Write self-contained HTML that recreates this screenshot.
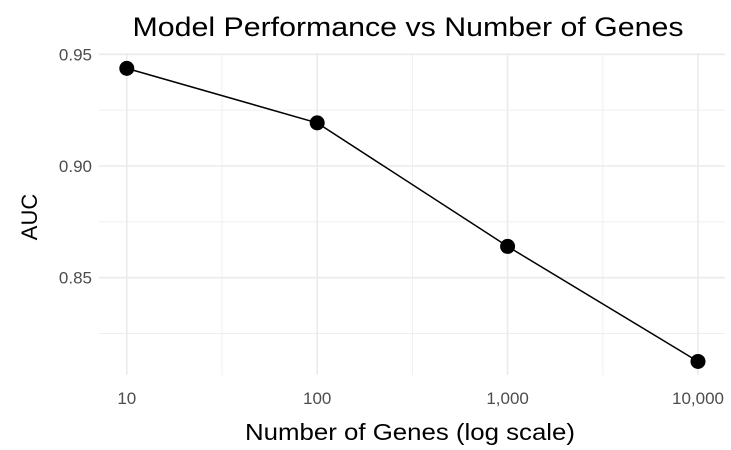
<!DOCTYPE html>
<html><head><meta charset="utf-8"><style>
body{margin:0;background:#fff;}
svg{display:block;font-family:"Liberation Sans",Arial,sans-serif;}
</style></head><body>
<svg id="chart" width="731" height="450">
<text x="408" y="36" text-anchor="middle" font-size="27" fill="#000" textLength="551" lengthAdjust="spacingAndGlyphs">Model Performance vs Number of Genes</text>
<text x="410" y="440" text-anchor="middle" font-size="23" fill="#000" textLength="330" lengthAdjust="spacingAndGlyphs">Number of Genes (log scale)</text>
<text transform="translate(37,217) rotate(-90)" text-anchor="middle" font-size="22" fill="#000">AUC</text>
<g id="grid"></g><g id="axes"></g><g id="marks"></g>
</svg>
<script>
const genes=[10,100,1000,10000];
const auc=[0.9437,0.9193,0.864,0.8125];
const xTicks=[10,100,1000,10000];
const xTickLabels=["10","100","1,000","10,000"];
const yTicks=[0.85,0.90,0.95];
const yTickLabels=["0.85","0.90","0.95"];
const L=98.6,R=725,T=53,B=375;
function xs(v){return 126.8+(Math.log10(v)-1)*190.4;}
function ys(v){return 54.3+(0.95-v)/0.05*111.7;}
const NS="http://www.w3.org/2000/svg";
function mk(t,a,p){const e=document.createElementNS(NS,t);for(const k in a)e.setAttribute(k,a[k]);p.appendChild(e);return e;}
const g=document.getElementById('grid'),ax=document.getElementById('axes'),m=document.getElementById('marks');
for(let i=0;i<xTicks.length-1;i++){const v=Math.sqrt(xTicks[i]*xTicks[i+1]);const l=mk('line',{x1:xs(v),x2:xs(v),y1:T,y2:B,stroke:'#efefef','stroke-width':1},g);

}
for(let i=0;i<yTicks.length;i++){const v=yTicks[i]-0.025;const l=mk('line',{x1:L,x2:R,y1:ys(v),y2:ys(v),stroke:'#efefef','stroke-width':1},g);

}
xTicks.forEach((v,i)=>{const l=mk('line',{x1:xs(v),x2:xs(v),y1:T,y2:B,stroke:'#ebebeb','stroke-width':1.6},g);


const t=mk('text',{x:xs(v),y:404,'text-anchor':'middle','font-size':17,fill:'#4d4d4d'},ax);t.textContent=xTickLabels[i];

});
yTicks.forEach((v,i)=>{const l=mk('line',{x1:L,x2:R,y1:ys(v),y2:ys(v),stroke:'#ebebeb','stroke-width':1.6},g);


const t=mk('text',{x:92,y:ys(v)+6,'text-anchor':'end','font-size':17,fill:'#4d4d4d'},ax);t.textContent=yTickLabels[i];

});
const pl=mk('polyline',{points:genes.map((v,i)=>xs(v)+','+ys(auc[i])).join(' '),fill:'none',stroke:'#000','stroke-width':1.5},m);


genes.forEach((v,i)=>{const c=mk('circle',{cx:xs(v),cy:ys(auc[i]),r:7.5,fill:'#000'},m);

});
</script>
</body></html>
